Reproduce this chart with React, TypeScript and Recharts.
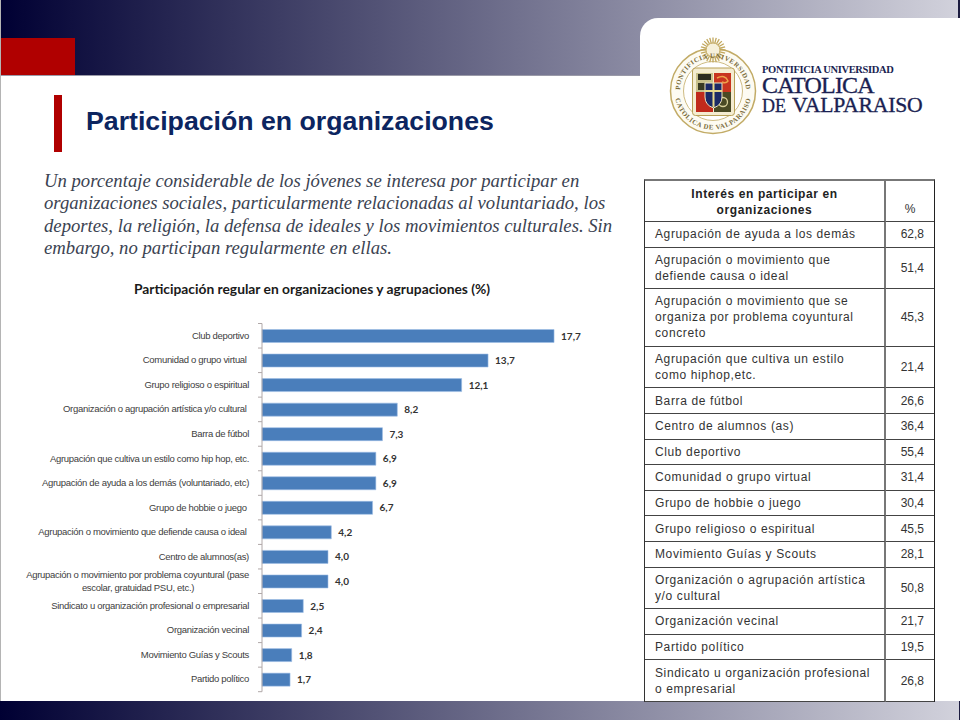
import React from 'react';
import { BarChart, Bar, XAxis, YAxis, LabelList } from 'recharts';

// Datos del gráfico (orden de arriba hacia abajo)
const categorias = [
  'Club deportivo',
  'Comunidad o grupo virtual\u00a0',
  'Grupo religioso o espiritual',
  'Organización o agrupación artística y/o cultural\u00a0',
  'Barra de fútbol',
  'Agrupación que cultiva un estilo como hip hop, etc.',
  'Agrupación de ayuda a los demás (voluntariado, etc)',
  'Grupo de hobbie o juego\u00a0',
  'Agrupación o movimiento que defiende causa o ideal\u00a0',
  'Centro de alumnos(as)',
  'Agrupación o movimiento por problema coyuntural (pase\nescolar, gratuidad PSU, etc.)',
  'Sindicato u organización profesional o empresarial',
  'Organización vecinal',
  'Movimiento Guías y Scouts',
  'Partido político',
];
const valores = [17.7, 13.7, 12.1, 8.2, 7.3, 6.9, 6.9, 6.7, 4.2, 4.0, 4.0, 2.5, 2.4, 1.8, 1.7];

// Tabla de la derecha
const filasTabla = [
  'Agrupación de ayuda a los demás',
  'Agrupación o movimiento que\ndefiende causa o ideal',
  'Agrupación o movimiento que se\norganiza por problema coyuntural\nconcreto',
  'Agrupación que cultiva un estilo\ncomo hiphop,etc.',
  'Barra de fútbol',
  'Centro de alumnos (as)',
  'Club deportivo',
  'Comunidad o grupo virtual',
  'Grupo de hobbie o juego',
  'Grupo religioso o espiritual',
  'Movimiento Guías y Scouts',
  'Organización o agrupación artística\ny/o cultural',
  'Organización vecinal',
  'Partido político',
  'Sindicato u organización profesional\no empresarial',
];
const valoresTabla = ['62,8', '51,4', '45,3', '21,4', '26,6', '36,4', '55,4', '31,4', '30,4', '45,5', '28,1', '50,8', '21,7', '19,5', '26,8'];

const parrafo = [
  'Un porcentaje considerable de los jóvenes se interesa por participar en',
  'organizaciones sociales, particularmente relacionadas al voluntariado, los',
  'deportes, la religión, la defensa de ideales y los movimientos culturales. Sin',
  'embargo, no participan regularmente en ellas.',
];

const datos = categorias.map((nombre, i) => ({ nombre, valor: valores[i] }));

const SANS = '"Liberation Sans", Arial, sans-serif';
const SERIF = '"Liberation Serif", "Times New Roman", serif';
const CHART_H = 430;
const PLOT_TOP = 53.5;
const PLOT_H = 368.2;
const BANDA = PLOT_H / categorias.length;

// Etiqueta del eje: admite dos líneas y dibuja la marca en el borde de la banda
function TickCategoria({ x, y, payload, index }: any) {
  const lineas = String(payload.value).split('\n');
  const inicio = lineas.length > 1 ? y - 3 : y + 3;
  return (
    <g>
      <line x1={258} x2={262} y1={y - BANDA / 2} y2={y - BANDA / 2} stroke="#b0a8a8" />
      {index === categorias.length - 1 && (
        <line x1={258} x2={262} y1={y + BANDA / 2} y2={y + BANDA / 2} stroke="#b0a8a8" />
      )}
      {lineas.map((l: string, i: number) => (
        <text
          key={i}
          x={i === 1 ? x - 111 : x}
          y={inicio + i * 12.5}
          textAnchor={i === 1 ? 'middle' : 'end'}
          fontFamily={SANS}
          fontSize={9.5}
          letterSpacing={-0.3}
          fill="#404040"
        >
          {l}
        </text>
      ))}
    </g>
  );
}

function Escudo() {
  const oro = '#c2ab66';
  return (
    <svg width={100} height={100} viewBox="0 0 100 100" style={{ position: 'absolute', left: 663, top: 36 }}>
      <defs>
        <path id="arcoSup" d="M 17.55 61 A 33 33 0 1 1 82.45 61" fill="none" />
        <path id="arcoInf" d="M 11.5 55 A 38.5 38.5 0 0 0 88.5 55" fill="none" />
      </defs>
      <circle cx={50} cy={55} r={42.5} fill="#fdfbf2" stroke={oro} strokeWidth={1.5} />
      <circle cx={50} cy={55} r={29.5} fill="#fff" stroke={oro} strokeWidth={0.8} />
      {Array.from({ length: 24 }).map((_, i) => {
        const a = i * 15 * (Math.PI / 180);
        return (
          <line
            key={i}
            x1={50 + 7 * Math.cos(a)}
            y1={14 + 7 * Math.sin(a)}
            x2={50 + 12.5 * Math.cos(a)}
            y2={14 + 12.5 * Math.sin(a)}
            stroke="#c2a85e"
            strokeWidth={1.3}
          />
        );
      })}
      <circle cx={50} cy={14} r={7} fill="#f6f0da" stroke="#c2a85e" />
      <text fontFamily={SERIF} fontWeight={700} fontSize={6.8} fill="#7a6b3a" letterSpacing={0.5}>
        <textPath href="#arcoSup" startOffset="50%" textAnchor="middle">PONTIFICIA UNIVERSIDAD</textPath>
      </text>
      <text fontFamily={SERIF} fontWeight={700} fontSize={6.8} fill="#7a6b3a" letterSpacing={0.6}>
        <textPath href="#arcoInf" startOffset="50%" textAnchor="middle">CATOLICA DE VALPARAISO</textPath>
      </text>
      <rect x={29.5} y={32} width={42} height={47.5} rx={3} fill="#f4ecd0" stroke="#b7a057" />
      <rect x={33} y={37} width={17} height={19} fill="#c8c08a" />
      <rect x={35} y={38} width={13} height={6} fill="#2c2c20" />
      <rect x={35} y={47} width={7} height={7} fill="#3a3a22" />
      <rect x={51} y={37} width={17} height={19} fill="#c8341f" />
      <path d="M 54 42 q 8 -4 11 3 q -2 3 -6 1" fill="none" stroke="#eea24a" strokeWidth={1.4} />
      <rect x={33} y={56} width={17} height={20} fill="#c02a1c" />
      <rect x={51} y={56} width={17} height={20} fill="#4a4a24" />
      <circle cx={60} cy={66} r={4.5} fill="none" stroke="#d8d09a" strokeWidth={1.3} />
      <path d="M 42 47 h 17 v 14 q 0 8 -8.5 11 q -8.5 -3 -8.5 -11 z" fill="#1c2a66" stroke="#f0e6c0" />
      <rect x={49.5} y={47} width={2} height={24} fill="#e8d98e" />
      <rect x={42} y={54} width={17} height={2} fill="#e8d98e" />
    </svg>
  );
}

function Logo() {
  const color = '#1a1f52';
  return (
    <>
      <Escudo />
      <svg width={180} height={60} viewBox="0 0 180 60" style={{ position: 'absolute', left: 756, top: 60 }}>
        <text x={6} y={13} fontFamily={SERIF} fontSize={10.5} fontWeight={700} fill={color} letterSpacing={-0.35}>
          PONTIFICIA UNIVERSIDAD
        </text>
        <text x={6} y={33} fontFamily={SERIF} fontSize={24} fill={color} stroke={color} strokeWidth={0.35} letterSpacing={-0.8}>
          CATOLICA
        </text>
        <text x={6} y={52} fontFamily={SERIF} fontSize={18} fill={color} stroke={color} strokeWidth={0.3}>
          DE
        </text>
        <text x={36} y={52} fontFamily={SERIF} fontSize={21.7} fill={color} stroke={color} strokeWidth={0.35} letterSpacing={-0.2}>
          VALPARAISO
        </text>
      </svg>
    </>
  );
}

function Tabla() {
  const celda: React.CSSProperties = {
    borderBottom: '1px solid #444',
    padding: '0 0 0 10px',
    color: '#333',
    verticalAlign: 'middle',
  };
  const divisor = '2px solid #777';
  return (
    <table
      style={{
        position: 'absolute',
        left: 644,
        top: 179,
        width: 290,
        tableLayout: 'fixed',
        borderCollapse: 'separate',
        borderSpacing: 0,
        borderTop: divisor,
        borderLeft: '1px solid #333',
        borderRight: '1px solid #222',
        fontFamily: SANS,
        fontSize: 12,
        lineHeight: '16px',
        background: '#fff',
      }}
    >
      <colgroup>
        <col style={{ width: 241 }} />
        <col style={{ width: 48 }} />
      </colgroup>
      <tbody>
        <tr style={{ height: 41 }}>
          <th style={{ ...celda, borderRight: divisor, textAlign: 'center', padding: '2px 0 0 0', color: '#222', fontWeight: 700, letterSpacing: 0.6 }}>
            Interés en participar en
            <br />
            organizaciones
          </th>
          <td style={{ ...celda, textAlign: 'center', verticalAlign: 'bottom', padding: '0 0 4px 0' }}>%</td>
        </tr>
        {filasTabla.map((fila, i) => {
          const lineas = fila.split('\n');
          return (
            <tr key={fila} style={{ height: 25.6 + (lineas.length - 1) * 16 }}>
              <td style={{ ...celda, borderRight: divisor, letterSpacing: 0.62 }}>
                {lineas.map((l, j) => (
                  <div key={j}>{l}</div>
                ))}
              </td>
              <td style={{ ...celda, textAlign: 'right', padding: '0 10px 0 0' }}>{valoresTabla[i]}</td>
            </tr>
          );
        })}
      </tbody>
    </table>
  );
}

export default function App() {
  const gradiente = 'linear-gradient(90deg, #000033 0%, #d2d2dc 100%)';
  return (
    <div style={{ position: 'absolute', left: 0, top: 0, width: 960, height: 720, background: '#fff', overflow: 'hidden' }}>
      {/* Cabecera y pie */}
      <div style={{ position: 'absolute', left: 0, top: 0, width: 960, height: 75, background: gradiente, borderBottom: '1px solid #9a9aa8' }} />
      <div style={{ position: 'absolute', left: 0, top: 701, width: 960, height: 19, background: gradiente }} />
      <div style={{ position: 'absolute', left: 958, top: 0, width: 2, height: 18, background: '#1c1c40' }} />
      <div style={{ position: 'absolute', left: 959, top: 701, width: 1, height: 19, background: '#1c1c40' }} />
      <div style={{ position: 'absolute', left: 0, top: 38, width: 75, height: 37, background: '#b00000' }} />
      <div style={{ position: 'absolute', left: 0, top: 0, width: 1, height: 701, background: '#b4b4b4' }} />
      <div style={{ position: 'absolute', left: 640, top: 18, width: 320, height: 90, background: '#fff', borderTopLeftRadius: 18 }} />
      <Logo />

      {/* Título */}
      <div style={{ position: 'absolute', left: 54, top: 95, width: 8, height: 57, background: '#b00000' }} />
      <div style={{ position: 'absolute', left: 86, top: 106, fontFamily: SANS, fontWeight: 700, fontSize: 26.7, lineHeight: '30px', color: '#0c2560', whiteSpace: 'nowrap' }}>
        Participación en organizaciones
      </div>

      {/* Párrafo */}
      <div style={{ position: 'absolute', left: 44, top: 170, fontFamily: SERIF, fontStyle: 'italic', fontSize: 18.7, lineHeight: '22.4px', color: '#3b4352', whiteSpace: 'nowrap' }}>
        {parrafo.map((l) => (
          <div key={l}>{l}</div>
        ))}
      </div>

      {/* Gráfico */}
      <div style={{ position: 'absolute', left: 134, top: 281, fontFamily: 'Lato, sans-serif', fontWeight: 700, fontSize: 13.8, lineHeight: '16px', color: '#1a1a1a', whiteSpace: 'nowrap' }}>
        Participación regular en organizaciones y agrupaciones (%)
      </div>
      <div style={{ position: 'absolute', left: 0, top: 270 }}>
        <BarChart
          width={620}
          height={CHART_H}
          layout="vertical"
          data={datos}
          barCategoryGap={0}
          margin={{ top: PLOT_TOP, right: 28, bottom: CHART_H - PLOT_TOP - PLOT_H, left: 0 }}
        >
          <XAxis type="number" hide domain={[0, 20]} />
          <YAxis
            type="category"
            dataKey="nombre"
            width={262}
            interval={0}
            axisLine={{ stroke: '#b0a8a8' }}
            tickLine={false}
            tickMargin={0}
            tickSize={13}
            tick={(props: any) => <TickCategoria {...props} />}
          />
          <Bar dataKey="valor" barSize={13} fill="#4a7ebb" stroke="#9dbde6" strokeWidth={0.6} isAnimationActive={false}>
            <LabelList
              dataKey="valor"
              position="right"
              offset={7}
              fontFamily="Lato, sans-serif"
              fontWeight={700}
              fontSize={10}
              fill="#333"
              formatter={(v: any) => Number(v).toFixed(1).replace('.', ',')}
            />
          </Bar>
        </BarChart>
      </div>

      <Tabla />
    </div>
  );
}
